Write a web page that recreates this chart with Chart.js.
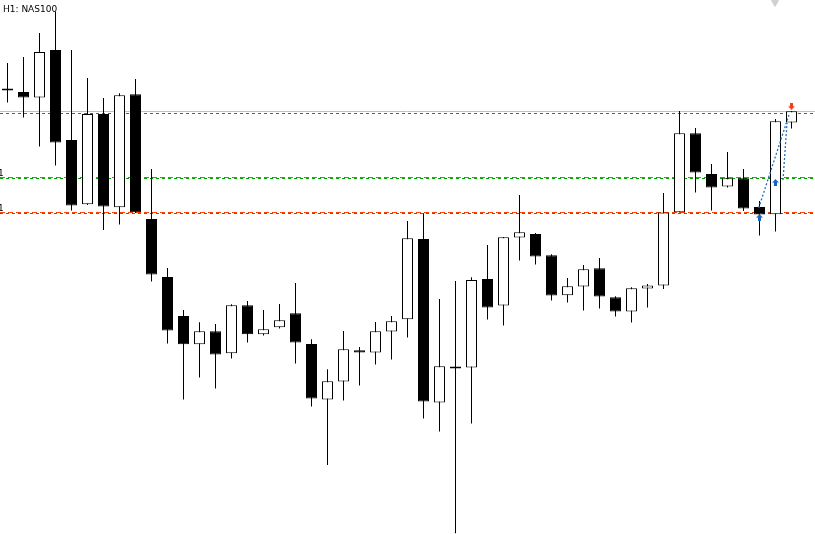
<!DOCTYPE html>
<html lang="en">
<head>
<meta charset="UTF-8">
<title>H1: NAS100</title>
<script src="https://cdn.jsdelivr.net/npm/chart.js"></script>
<style>
    html, body { margin: 0; padding: 0; background: #fff; overflow: hidden; }
    #chart { display: block; }
</style>
</head>
<body>
<canvas id="chart" width="815" height="534"></canvas>
<script>
    // NAS100, H1 candles, oldest first
    const opens = [
        15655.8, 15654.0, 15651.2, 15675.0, 15630.0, 15597.9, 15643.0, 15596.4, 15652.9, 15590.5,
        15561.5, 15542.0, 15527.9, 15534.4, 15523.4, 15547.4, 15532.9, 15536.4, 15543.4, 15528.0,
        15500.2, 15509.2, 15524.9, 15523.7, 15534.2, 15540.4, 15580.5, 15498.7, 15516.8, 15516.2,
        15560.5, 15547.2, 15581.2, 15583.0, 15572.4, 15552.4, 15556.7, 15565.9, 15551.4, 15544.2,
        15555.7, 15557.2, 15593.9, 15633.4, 15613.0, 15606.7, 15610.9, 15596.5, 15592.9, 15638.7
    ];
    const highs = [
        15668.5, 15671.5, 15683.5, 15694.2, 15675.0, 15661.0, 15651.0, 15653.4, 15660.5, 15615.5,
        15566.0, 15545.0, 15538.9, 15538.0, 15547.9, 15549.5, 15545.0, 15548.0, 15558.5, 15530.4,
        15515.4, 15534.5, 15526.5, 15539.0, 15542.0, 15589.5, 15593.4, 15550.5, 15559.5, 15561.4,
        15577.5, 15581.5, 15602.5, 15583.5, 15572.9, 15561.0, 15567.5, 15571.0, 15551.9, 15556.4,
        15558.0, 15603.5, 15644.5, 15636.0, 15618.0, 15624.0, 15615.5, 15599.5, 15640.5, 15644.5
    ];
    const lows = [
        15648.7, 15641.2, 15626.7, 15617.2, 15594.7, 15597.5, 15585.0, 15587.7, 15593.5, 15559.2,
        15528.2, 15500.2, 15511.2, 15505.7, 15520.7, 15528.7, 15532.2, 15535.7, 15518.2, 15496.7,
        15467.5, 15499.7, 15507.2, 15517.7, 15520.2, 15531.2, 15490.7, 15484.2, 15433.4, 15488.2,
        15540.2, 15537.2, 15569.7, 15567.7, 15549.7, 15548.7, 15544.7, 15545.7, 15541.7, 15538.7,
        15546.2, 15555.5, 15593.8, 15603.7, 15594.7, 15606.2, 15594.5, 15582.2, 15584.2, 15635.7
    ];
    const closes = [
        15654.8, 15651.2, 15674.0, 15628.7, 15597.2, 15643.0, 15596.7, 15652.4, 15593.9, 15562.7,
        15534.7, 15527.9, 15534.4, 15522.7, 15547.4, 15532.9, 15535.4, 15539.9, 15528.7, 15500.7,
        15509.4, 15525.4, 15523.7, 15534.4, 15539.4, 15580.9, 15499.2, 15516.9, 15515.8, 15560.0,
        15546.2, 15581.4, 15583.9, 15571.7, 15552.2, 15556.9, 15565.4, 15551.7, 15544.2, 15555.9,
        15557.2, 15593.7, 15633.4, 15613.7, 15606.2, 15610.9, 15595.7, 15592.7, 15639.4, 15644.4
    ];

    // horizontal levels
    const lastHigh = 15644.25;
    const greenLevels = [15643.25, 15610.75, 15593.25];
    const redLevels = [15611.25, 15593.75];

    // trade arrows and the dotted links between them
    const buyBars = [47, 48];
    const buyPrices = [15591.2, 15608.7];
    const sellBars = [49];
    const sellPrices = [15646.9];
    const linkA = [[46.95, 15596.0], [48.84, 15642.5]];
    const linkB = [[48.47, 15610.0], [48.72, 15638.5]];

    const xMin = -0.469, xMax = 50.469;

    function arrowIcon(color, down) {
        const c = document.createElement('canvas');
        c.width = 7; c.height = 7;
        const g = c.getContext('2d');
        if (down) { g.translate(0, 7); g.scale(1, -1); }
        g.fillStyle = color;
        g.beginPath();
        g.moveTo(3.5, 0); g.lineTo(7, 3.5); g.lineTo(5, 3.5); g.lineTo(5, 7);
        g.lineTo(2, 7); g.lineTo(2, 3.5); g.lineTo(0, 3.5);
        g.closePath();
        g.fill();
        return c;
    }

    function hLine(value, color, dash) {
        return {
            type: 'line',
            data: [{ x: xMin, y: value }, { x: xMax, y: value }],
            borderColor: color,
            borderWidth: 1,
            borderDash: dash,
            pointRadius: 0,
            order: 5
        };
    }

    const bodies = opens.map((o, i) => ({ x: i, y: [o, closes[i]] }));
    const wicks = lows.map((l, i) => ({ x: i, y: [l, highs[i]] }));
    const bodyFill = opens.map((o, i) => closes[i] > o ? '#ffffff' : '#000000');

    // captions drawn on the canvas
    const captions = {
        id: 'captions',
        afterDatasetsDraw(chart) {
            const ctx = chart.ctx;
            const y = chart.scales.y;
            ctx.save();
            ctx.fillStyle = '#000';
            ctx.textBaseline = 'alphabetic';
            ctx.font = '9px "DejaVu Sans"';
            ctx.fillText('H1: NAS100', 3, 12);
            redLevels.forEach(v => ctx.fillText('1', -2, y.getPixelForValue(v) - 2));
            ctx.restore();
        }
    };

    new Chart(document.getElementById('chart'), {
        type: 'bar',
        data: {
            datasets: [
                hLine(lastHigh, '#c0c0c0', []),
                hLine(redLevels[0], '#ff4500', [5, 3]),
                hLine(redLevels[1], '#ff4500', [5, 3]),
                hLine(greenLevels[0], '#00a000', [3, 3]),
                hLine(greenLevels[1], '#00a000', [3, 3]),
                hLine(greenLevels[2], '#00a000', [3, 3]),
                {
                    type: 'bar',
                    data: wicks,
                    backgroundColor: '#000',
                    borderWidth: 0,
                    barThickness: 1,
                    inflateAmount: 0,
                    grouped: false,
                    order: 3
                },
                {
                    type: 'bar',
                    data: bodies,
                    backgroundColor: bodyFill,
                    borderColor: '#000',
                    borderWidth: 1,
                    borderSkipped: false,
                    barThickness: 11,
                    inflateAmount: 0,
                    grouped: false,
                    order: 2
                },
                {
                    type: 'line',
                    data: linkA.map(p => ({ x: p[0], y: p[1] })),
                    borderColor: '#1f6fc0',
                    borderWidth: 1.3,
                    borderDash: [2, 2],
                    pointRadius: 0,
                    order: 1
                },
                {
                    type: 'line',
                    data: linkB.map(p => ({ x: p[0], y: p[1] })),
                    borderColor: '#1f6fc0',
                    borderWidth: 1.3,
                    borderDash: [2, 2],
                    pointRadius: 0,
                    order: 1
                },
                {
                    type: 'scatter',
                    data: buyBars.map((b, i) => ({ x: b, y: buyPrices[i] })),
                    pointStyle: arrowIcon('#1565c0', false),
                    order: 0
                },
                {
                    type: 'scatter',
                    data: sellBars.map((b, i) => ({ x: b, y: sellPrices[i] })),
                    pointStyle: arrowIcon('#e8401c', true),
                    order: 0
                },
                {
                    type: 'scatter',
                    data: [{ x: 47.97, y: 15698.8 }],
                    pointStyle: 'triangle',
                    rotation: 180,
                    radius: 4,
                    backgroundColor: '#cfcfcf',
                    borderColor: '#cfcfcf',
                    order: 0
                }
            ]
        },
        options: {
            responsive: false,
            animation: false,
            layout: { padding: 0, autoPadding: false },
            scales: {
                x: { type: 'linear', min: xMin, max: xMax, offset: false, display: false },
                y: { type: 'linear', min: 15433, max: 15700, display: false }
            },
            plugins: {
                legend: { display: false },
                tooltip: { enabled: false }
            }
        },
        plugins: [captions]
    });
</script>
</body>
</html>
